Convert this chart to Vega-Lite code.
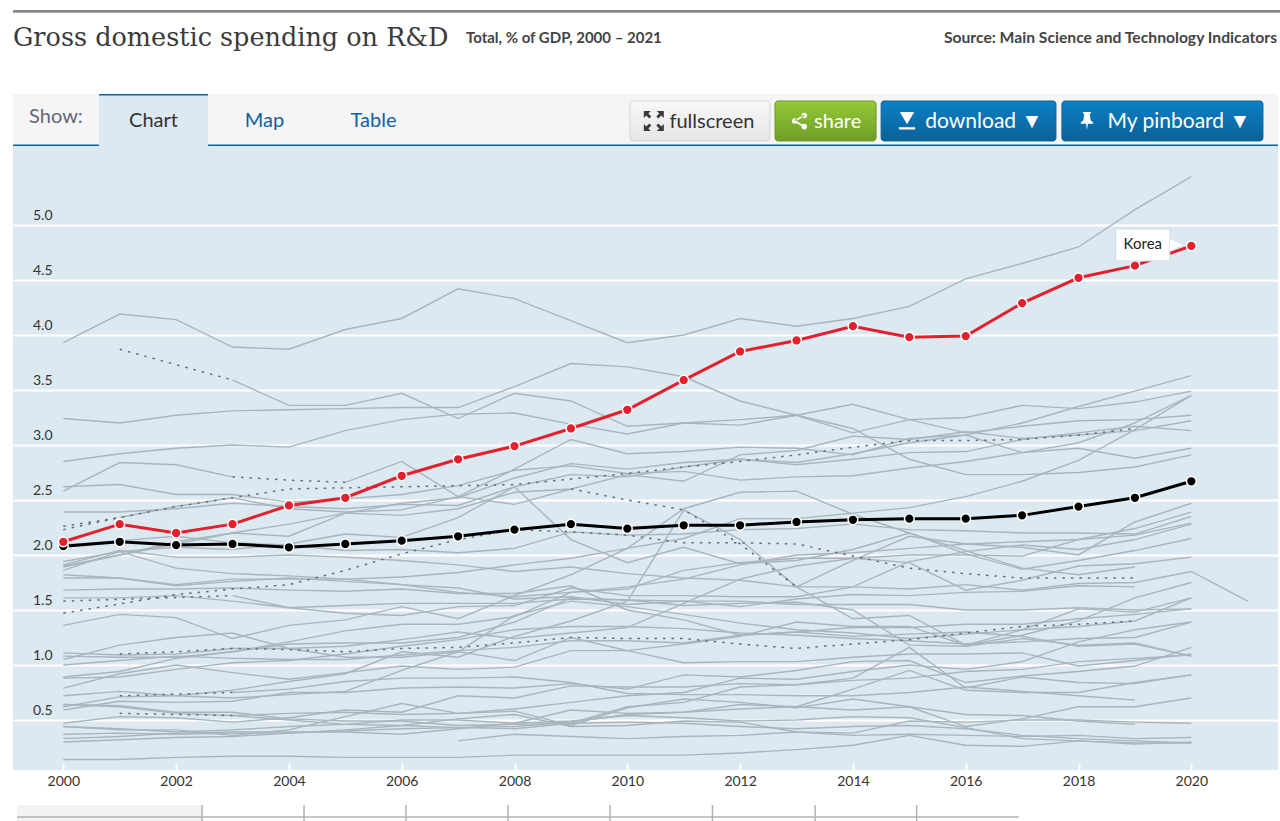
{"$schema":"https://vega.github.io/schema/vega-lite/v6.json","width":1265,"height":624,"autosize":"none","padding":{"left":13,"top":146,"right":2,"bottom":51},"background":"white","view":{"fill":"#dde9f1","stroke":null},
"config":{"text":{"font":"Lato"}},
"data":{"values":[{"k":"ui"}]},
"datasets":{
"grey":[
{"c":"ISR","y":2000,"v":3.93},{"c":"ISR","y":2001,"v":4.19},{"c":"ISR","y":2002,"v":4.14},{"c":"ISR","y":2003,"v":3.89},{"c":"ISR","y":2004,"v":3.87},{"c":"ISR","y":2005,"v":4.05},{"c":"ISR","y":2006,"v":4.15},{"c":"ISR","y":2007,"v":4.42},{"c":"ISR","y":2008,"v":4.33},{"c":"ISR","y":2009,"v":4.13},{"c":"ISR","y":2010,"v":3.93},{"c":"ISR","y":2011,"v":4.0},{"c":"ISR","y":2012,"v":4.15},{"c":"ISR","y":2013,"v":4.08},{"c":"ISR","y":2014,"v":4.15},{"c":"ISR","y":2015,"v":4.26},{"c":"ISR","y":2016,"v":4.51},{"c":"ISR","y":2017,"v":4.65},{"c":"ISR","y":2018,"v":4.8},{"c":"ISR","y":2019,"v":5.14},{"c":"ISR","y":2020,"v":5.44},
{"c":"FIN","y":2000,"v":3.24},{"c":"FIN","y":2001,"v":3.2},{"c":"FIN","y":2002,"v":3.27},{"c":"FIN","y":2003,"v":3.31},{"c":"FIN","y":2004,"v":3.32},{"c":"FIN","y":2005,"v":3.33},{"c":"FIN","y":2006,"v":3.34},{"c":"FIN","y":2007,"v":3.34},{"c":"FIN","y":2008,"v":3.53},{"c":"FIN","y":2009,"v":3.74},{"c":"FIN","y":2010,"v":3.71},{"c":"FIN","y":2011,"v":3.62},{"c":"FIN","y":2012,"v":3.4},{"c":"FIN","y":2013,"v":3.27},{"c":"FIN","y":2014,"v":3.15},{"c":"FIN","y":2015,"v":2.87},{"c":"FIN","y":2016,"v":2.73},{"c":"FIN","y":2017,"v":2.73},{"c":"FIN","y":2018,"v":2.75},{"c":"FIN","y":2019,"v":2.8},{"c":"FIN","y":2020,"v":2.91},
{"c":"SWE","y":2003,"v":3.59},{"c":"SWE","y":2004,"v":3.36},{"c":"SWE","y":2005,"v":3.36},{"c":"SWE","y":2006,"v":3.47},{"c":"SWE","y":2007,"v":3.24},{"c":"SWE","y":2008,"v":3.47},{"c":"SWE","y":2009,"v":3.4},{"c":"SWE","y":2010,"v":3.17},{"c":"SWE","y":2011,"v":3.2},{"c":"SWE","y":2012,"v":3.18},{"c":"SWE","y":2013,"v":3.27},{"c":"SWE","y":2014,"v":3.11},{"c":"SWE","y":2015,"v":3.23},{"c":"SWE","y":2016,"v":3.25},{"c":"SWE","y":2017,"v":3.36},{"c":"SWE","y":2018,"v":3.33},{"c":"SWE","y":2019,"v":3.39},{"c":"SWE","y":2020,"v":3.49},
{"c":"JPN","y":2000,"v":2.85},{"c":"JPN","y":2001,"v":2.92},{"c":"JPN","y":2002,"v":2.97},{"c":"JPN","y":2003,"v":3.0},{"c":"JPN","y":2004,"v":2.98},{"c":"JPN","y":2005,"v":3.13},{"c":"JPN","y":2006,"v":3.23},{"c":"JPN","y":2007,"v":3.28},{"c":"JPN","y":2008,"v":3.29},{"c":"JPN","y":2009,"v":3.19},{"c":"JPN","y":2010,"v":3.1},{"c":"JPN","y":2011,"v":3.2},{"c":"JPN","y":2012,"v":3.23},{"c":"JPN","y":2013,"v":3.27},{"c":"JPN","y":2014,"v":3.37},{"c":"JPN","y":2015,"v":3.23},{"c":"JPN","y":2016,"v":3.11},{"c":"JPN","y":2017,"v":3.17},{"c":"JPN","y":2018,"v":3.22},{"c":"JPN","y":2019,"v":3.23},{"c":"JPN","y":2020,"v":3.27},
{"c":"USA","y":2000,"v":2.62},{"c":"USA","y":2001,"v":2.64},{"c":"USA","y":2002,"v":2.55},{"c":"USA","y":2003,"v":2.55},{"c":"USA","y":2004,"v":2.48},{"c":"USA","y":2005,"v":2.51},{"c":"USA","y":2006,"v":2.55},{"c":"USA","y":2007,"v":2.63},{"c":"USA","y":2008,"v":2.77},{"c":"USA","y":2009,"v":2.81},{"c":"USA","y":2010,"v":2.74},{"c":"USA","y":2011,"v":2.76},{"c":"USA","y":2012,"v":2.68},{"c":"USA","y":2013,"v":2.71},{"c":"USA","y":2014,"v":2.72},{"c":"USA","y":2015,"v":2.79},{"c":"USA","y":2016,"v":2.85},{"c":"USA","y":2017,"v":2.93},{"c":"USA","y":2018,"v":3.02},{"c":"USA","y":2019,"v":3.2},{"c":"USA","y":2020,"v":3.45},
{"c":"ISL1","y":2000,"v":2.58},{"c":"ISL1","y":2001,"v":2.84},{"c":"ISL1","y":2002,"v":2.82},{"c":"ISL1","y":2003,"v":2.71},
{"c":"ISL2","y":2005,"v":2.66},{"c":"ISL2","y":2006,"v":2.85},{"c":"ISL2","y":2007,"v":2.53},{"c":"ISL2","y":2008,"v":2.46},{"c":"ISL2","y":2009,"v":2.6},
{"c":"ISL3","y":2013,"v":1.71},{"c":"ISL3","y":2014,"v":1.95},{"c":"ISL3","y":2015,"v":2.17},{"c":"ISL3","y":2016,"v":2.1},{"c":"ISL3","y":2017,"v":2.07},{"c":"ISL3","y":2018,"v":2.0},{"c":"ISL3","y":2019,"v":2.3},{"c":"ISL3","y":2020,"v":2.47},
{"c":"DNK","y":2001,"v":2.34},{"c":"DNK","y":2002,"v":2.44},{"c":"DNK","y":2003,"v":2.52},{"c":"DNK","y":2004,"v":2.42},{"c":"DNK","y":2005,"v":2.39},{"c":"DNK","y":2006,"v":2.41},{"c":"DNK","y":2007,"v":2.53},{"c":"DNK","y":2008,"v":2.78},{"c":"DNK","y":2009,"v":3.05},{"c":"DNK","y":2010,"v":2.92},{"c":"DNK","y":2011,"v":2.94},{"c":"DNK","y":2012,"v":2.98},{"c":"DNK","y":2013,"v":2.97},{"c":"DNK","y":2014,"v":2.91},{"c":"DNK","y":2015,"v":3.06},{"c":"DNK","y":2016,"v":3.09},{"c":"DNK","y":2017,"v":2.93},{"c":"DNK","y":2018,"v":2.97},{"c":"DNK","y":2019,"v":2.88},{"c":"DNK","y":2020,"v":2.97},
{"c":"DEU","y":2000,"v":2.39},{"c":"DEU","y":2001,"v":2.39},{"c":"DEU","y":2002,"v":2.42},{"c":"DEU","y":2003,"v":2.47},{"c":"DEU","y":2004,"v":2.44},{"c":"DEU","y":2005,"v":2.42},{"c":"DEU","y":2006,"v":2.46},{"c":"DEU","y":2007,"v":2.45},{"c":"DEU","y":2008,"v":2.62},{"c":"DEU","y":2009,"v":2.73},{"c":"DEU","y":2010,"v":2.71},{"c":"DEU","y":2011,"v":2.8},{"c":"DEU","y":2012,"v":2.87},{"c":"DEU","y":2013,"v":2.82},{"c":"DEU","y":2014,"v":2.87},{"c":"DEU","y":2015,"v":2.93},{"c":"DEU","y":2016,"v":2.94},{"c":"DEU","y":2017,"v":3.05},{"c":"DEU","y":2018,"v":3.11},{"c":"DEU","y":2019,"v":3.17},{"c":"DEU","y":2020,"v":3.13},
{"c":"AUT","y":2000,"v":1.9},{"c":"AUT","y":2001,"v":2.0},{"c":"AUT","y":2002,"v":2.12},{"c":"AUT","y":2003,"v":2.2},{"c":"AUT","y":2004,"v":2.17},{"c":"AUT","y":2005,"v":2.38},{"c":"AUT","y":2006,"v":2.36},{"c":"AUT","y":2007,"v":2.42},{"c":"AUT","y":2008,"v":2.57},{"c":"AUT","y":2009,"v":2.6},{"c":"AUT","y":2010,"v":2.73},{"c":"AUT","y":2011,"v":2.67},{"c":"AUT","y":2012,"v":2.91},{"c":"AUT","y":2013,"v":2.95},{"c":"AUT","y":2014,"v":3.08},{"c":"AUT","y":2015,"v":3.05},{"c":"AUT","y":2016,"v":3.12},{"c":"AUT","y":2017,"v":3.06},{"c":"AUT","y":2018,"v":3.09},{"c":"AUT","y":2019,"v":3.13},{"c":"AUT","y":2020,"v":3.22},
{"c":"TWN","y":2000,"v":1.89},{"c":"TWN","y":2001,"v":2.0},{"c":"TWN","y":2002,"v":2.1},{"c":"TWN","y":2003,"v":2.2},{"c":"TWN","y":2004,"v":2.28},{"c":"TWN","y":2005,"v":2.38},{"c":"TWN","y":2006,"v":2.47},{"c":"TWN","y":2007,"v":2.52},{"c":"TWN","y":2008,"v":2.7},{"c":"TWN","y":2009,"v":2.83},{"c":"TWN","y":2010,"v":2.78},{"c":"TWN","y":2011,"v":2.84},{"c":"TWN","y":2012,"v":2.87},{"c":"TWN","y":2013,"v":2.84},{"c":"TWN","y":2014,"v":2.92},{"c":"TWN","y":2015,"v":3.02},{"c":"TWN","y":2016,"v":3.09},{"c":"TWN","y":2017,"v":3.2},{"c":"TWN","y":2018,"v":3.35},{"c":"TWN","y":2019,"v":3.49},{"c":"TWN","y":2020,"v":3.63},
{"c":"BEL","y":2000,"v":1.94},{"c":"BEL","y":2001,"v":2.03},{"c":"BEL","y":2002,"v":1.88},{"c":"BEL","y":2003,"v":1.83},{"c":"BEL","y":2004,"v":1.81},{"c":"BEL","y":2005,"v":1.78},{"c":"BEL","y":2006,"v":1.8},{"c":"BEL","y":2007,"v":1.84},{"c":"BEL","y":2008,"v":1.91},{"c":"BEL","y":2009,"v":1.97},{"c":"BEL","y":2010,"v":2.06},{"c":"BEL","y":2011,"v":2.15},{"c":"BEL","y":2012,"v":2.33},{"c":"BEL","y":2013,"v":2.33},{"c":"BEL","y":2014,"v":2.38},{"c":"BEL","y":2015,"v":2.43},{"c":"BEL","y":2016,"v":2.53},{"c":"BEL","y":2017,"v":2.67},{"c":"BEL","y":2018,"v":2.86},{"c":"BEL","y":2019,"v":3.14},{"c":"BEL","y":2020,"v":3.45},
{"c":"FRA","y":2000,"v":2.09},{"c":"FRA","y":2001,"v":2.13},{"c":"FRA","y":2002,"v":2.17},{"c":"FRA","y":2003,"v":2.11},{"c":"FRA","y":2004,"v":2.09},{"c":"FRA","y":2005,"v":2.04},{"c":"FRA","y":2006,"v":2.05},{"c":"FRA","y":2007,"v":2.02},{"c":"FRA","y":2008,"v":2.06},{"c":"FRA","y":2009,"v":2.21},{"c":"FRA","y":2010,"v":2.18},{"c":"FRA","y":2011,"v":2.19},{"c":"FRA","y":2012,"v":2.23},{"c":"FRA","y":2013,"v":2.24},{"c":"FRA","y":2014,"v":2.28},{"c":"FRA","y":2015,"v":2.23},{"c":"FRA","y":2016,"v":2.22},{"c":"FRA","y":2017,"v":2.2},{"c":"FRA","y":2018,"v":2.2},{"c":"FRA","y":2019,"v":2.19},{"c":"FRA","y":2020,"v":2.35},
{"c":"SGP","y":2000,"v":1.86},{"c":"SGP","y":2001,"v":2.03},{"c":"SGP","y":2002,"v":2.07},{"c":"SGP","y":2003,"v":2.05},{"c":"SGP","y":2004,"v":2.1},{"c":"SGP","y":2005,"v":2.19},{"c":"SGP","y":2006,"v":2.16},{"c":"SGP","y":2007,"v":2.34},{"c":"SGP","y":2008,"v":2.62},{"c":"SGP","y":2009,"v":2.14},{"c":"SGP","y":2010,"v":1.93},{"c":"SGP","y":2011,"v":2.07},{"c":"SGP","y":2012,"v":1.92},{"c":"SGP","y":2013,"v":1.95},{"c":"SGP","y":2014,"v":2.05},{"c":"SGP","y":2015,"v":2.2},{"c":"SGP","y":2016,"v":2.04},{"c":"SGP","y":2017,"v":1.88},{"c":"SGP","y":2018,"v":1.82},{"c":"SGP","y":2019,"v":1.89},
{"c":"NLD","y":2000,"v":1.82},{"c":"NLD","y":2001,"v":1.79},{"c":"NLD","y":2002,"v":1.72},{"c":"NLD","y":2003,"v":1.76},{"c":"NLD","y":2004,"v":1.79},{"c":"NLD","y":2005,"v":1.76},{"c":"NLD","y":2006,"v":1.73},{"c":"NLD","y":2007,"v":1.66},{"c":"NLD","y":2008,"v":1.62},{"c":"NLD","y":2009,"v":1.66},{"c":"NLD","y":2010,"v":1.69},{"c":"NLD","y":2011,"v":1.86},{"c":"NLD","y":2012,"v":1.93},{"c":"NLD","y":2013,"v":1.97},{"c":"NLD","y":2014,"v":1.97},{"c":"NLD","y":2015,"v":2.0},{"c":"NLD","y":2016,"v":2.0},{"c":"NLD","y":2017,"v":1.99},{"c":"NLD","y":2018,"v":2.14},{"c":"NLD","y":2019,"v":2.18},{"c":"NLD","y":2020,"v":2.29},
{"c":"CAN","y":2000,"v":1.91},{"c":"CAN","y":2001,"v":2.04},{"c":"CAN","y":2002,"v":1.98},{"c":"CAN","y":2003,"v":1.98},{"c":"CAN","y":2004,"v":2.0},{"c":"CAN","y":2005,"v":1.98},{"c":"CAN","y":2006,"v":1.95},{"c":"CAN","y":2007,"v":1.91},{"c":"CAN","y":2008,"v":1.85},{"c":"CAN","y":2009,"v":1.89},{"c":"CAN","y":2010,"v":1.83},{"c":"CAN","y":2011,"v":1.79},{"c":"CAN","y":2012,"v":1.77},{"c":"CAN","y":2013,"v":1.71},{"c":"CAN","y":2014,"v":1.71},{"c":"CAN","y":2015,"v":1.69},{"c":"CAN","y":2016,"v":1.73},{"c":"CAN","y":2017,"v":1.68},{"c":"CAN","y":2018,"v":1.74},{"c":"CAN","y":2019,"v":1.75},{"c":"CAN","y":2020,"v":1.85},{"c":"CAN","y":2021,"v":1.58},
{"c":"GBR","y":2000,"v":1.61},{"c":"GBR","y":2001,"v":1.61},{"c":"GBR","y":2002,"v":1.63},{"c":"GBR","y":2003,"v":1.58},{"c":"GBR","y":2004,"v":1.52},{"c":"GBR","y":2005,"v":1.54},{"c":"GBR","y":2006,"v":1.56},{"c":"GBR","y":2007,"v":1.56},{"c":"GBR","y":2008,"v":1.56},{"c":"GBR","y":2009,"v":1.6},{"c":"GBR","y":2010,"v":1.59},{"c":"GBR","y":2011,"v":1.58},{"c":"GBR","y":2012,"v":1.53},{"c":"GBR","y":2013,"v":1.6},{"c":"GBR","y":2014,"v":1.64},{"c":"GBR","y":2015,"v":1.63},{"c":"GBR","y":2016,"v":1.66},{"c":"GBR","y":2017,"v":1.67},{"c":"GBR","y":2018,"v":1.72},{"c":"GBR","y":2019,"v":1.71},
{"c":"NOR","y":2003,"v":1.63},{"c":"NOR","y":2004,"v":1.52},{"c":"NOR","y":2005,"v":1.47},{"c":"NOR","y":2006,"v":1.45},{"c":"NOR","y":2007,"v":1.53},{"c":"NOR","y":2008,"v":1.54},{"c":"NOR","y":2009,"v":1.7},{"c":"NOR","y":2010,"v":1.63},{"c":"NOR","y":2011,"v":1.63},{"c":"NOR","y":2012,"v":1.62},{"c":"NOR","y":2013,"v":1.62},{"c":"NOR","y":2014,"v":1.71},{"c":"NOR","y":2015,"v":1.94},{"c":"NOR","y":2016,"v":2.03},{"c":"NOR","y":2017,"v":2.09},{"c":"NOR","y":2018,"v":2.05},{"c":"NOR","y":2019,"v":2.14},{"c":"NOR","y":2020,"v":2.28},
{"c":"LUX","y":2000,"v":1.68},{"c":"LUX","y":2001,"v":1.69},{"c":"LUX","y":2002,"v":1.69},{"c":"LUX","y":2003,"v":1.7},{"c":"LUX","y":2004,"v":1.68},{"c":"LUX","y":2005,"v":1.67},{"c":"LUX","y":2006,"v":1.69},{"c":"LUX","y":2007,"v":1.65},{"c":"LUX","y":2008,"v":1.65},{"c":"LUX","y":2009,"v":1.72},{"c":"LUX","y":2010,"v":1.5},{"c":"LUX","y":2011,"v":1.41},{"c":"LUX","y":2012,"v":1.27},{"c":"LUX","y":2013,"v":1.3},{"c":"LUX","y":2014,"v":1.26},{"c":"LUX","y":2015,"v":1.28},{"c":"LUX","y":2016,"v":1.3},{"c":"LUX","y":2017,"v":1.26},{"c":"LUX","y":2018,"v":1.17},{"c":"LUX","y":2019,"v":1.19},{"c":"LUX","y":2020,"v":1.08},
{"c":"XA","y":2000,"v":1.79},{"c":"XA","y":2001,"v":1.79},{"c":"XA","y":2002,"v":1.73},{"c":"XA","y":2003,"v":1.78},{"c":"XA","y":2004,"v":1.78},{"c":"XA","y":2005,"v":1.78},{"c":"XA","y":2006,"v":1.73},{"c":"XA","y":2007,"v":1.7},{"c":"XA","y":2008,"v":1.6},{"c":"XA","y":2009,"v":1.62},{"c":"XA","y":2010,"v":1.55},{"c":"XA","y":2011,"v":1.58},{"c":"XA","y":2012,"v":1.58},{"c":"XA","y":2013,"v":1.55},{"c":"XA","y":2014,"v":1.55},{"c":"XA","y":2015,"v":1.55},{"c":"XA","y":2016,"v":1.5},{"c":"XA","y":2017,"v":1.5},{"c":"XA","y":2018,"v":1.52},{"c":"XA","y":2019,"v":1.5},{"c":"XA","y":2020,"v":1.51},
{"c":"SVN","y":2000,"v":1.36},{"c":"SVN","y":2001,"v":1.46},{"c":"SVN","y":2002,"v":1.43},{"c":"SVN","y":2003,"v":1.24},{"c":"SVN","y":2004,"v":1.36},{"c":"SVN","y":2005,"v":1.41},{"c":"SVN","y":2006,"v":1.53},{"c":"SVN","y":2007,"v":1.42},{"c":"SVN","y":2008,"v":1.63},{"c":"SVN","y":2009,"v":1.82},{"c":"SVN","y":2010,"v":2.06},{"c":"SVN","y":2011,"v":2.42},{"c":"SVN","y":2012,"v":2.57},{"c":"SVN","y":2013,"v":2.58},{"c":"SVN","y":2014,"v":2.37},{"c":"SVN","y":2015,"v":2.2},{"c":"SVN","y":2016,"v":2.01},{"c":"SVN","y":2017,"v":1.87},{"c":"SVN","y":2018,"v":1.95},{"c":"SVN","y":2019,"v":2.04},{"c":"SVN","y":2020,"v":2.15},
{"c":"CHN","y":2000,"v":0.89},{"c":"CHN","y":2001,"v":0.94},{"c":"CHN","y":2002,"v":1.06},{"c":"CHN","y":2003,"v":1.12},{"c":"CHN","y":2004,"v":1.21},{"c":"CHN","y":2005,"v":1.31},{"c":"CHN","y":2006,"v":1.37},{"c":"CHN","y":2007,"v":1.37},{"c":"CHN","y":2008,"v":1.44},{"c":"CHN","y":2009,"v":1.66},{"c":"CHN","y":2010,"v":1.71},{"c":"CHN","y":2011,"v":1.78},{"c":"CHN","y":2012,"v":1.91},{"c":"CHN","y":2013,"v":2.0},{"c":"CHN","y":2014,"v":2.02},{"c":"CHN","y":2015,"v":2.06},{"c":"CHN","y":2016,"v":2.1},{"c":"CHN","y":2017,"v":2.12},{"c":"CHN","y":2018,"v":2.14},{"c":"CHN","y":2019,"v":2.24},{"c":"CHN","y":2020,"v":2.39},
{"c":"CZE","y":2000,"v":1.11},{"c":"CZE","y":2001,"v":1.09},{"c":"CZE","y":2002,"v":1.1},{"c":"CZE","y":2003,"v":1.15},{"c":"CZE","y":2004,"v":1.15},{"c":"CZE","y":2005,"v":1.17},{"c":"CZE","y":2006,"v":1.23},{"c":"CZE","y":2007,"v":1.3},{"c":"CZE","y":2008,"v":1.24},{"c":"CZE","y":2009,"v":1.29},{"c":"CZE","y":2010,"v":1.34},{"c":"CZE","y":2011,"v":1.56},{"c":"CZE","y":2012,"v":1.78},{"c":"CZE","y":2013,"v":1.9},{"c":"CZE","y":2014,"v":1.97},{"c":"CZE","y":2015,"v":1.93},{"c":"CZE","y":2016,"v":1.68},{"c":"CZE","y":2017,"v":1.77},{"c":"CZE","y":2018,"v":1.9},{"c":"CZE","y":2019,"v":1.92},{"c":"CZE","y":2020,"v":1.98},
{"c":"EST","y":2000,"v":0.62},{"c":"EST","y":2001,"v":0.71},{"c":"EST","y":2002,"v":0.72},{"c":"EST","y":2003,"v":0.77},{"c":"EST","y":2004,"v":0.85},{"c":"EST","y":2005,"v":0.92},{"c":"EST","y":2006,"v":1.12},{"c":"EST","y":2007,"v":1.07},{"c":"EST","y":2008,"v":1.26},{"c":"EST","y":2009,"v":1.4},{"c":"EST","y":2010,"v":1.58},{"c":"EST","y":2011,"v":2.41},{"c":"EST","y":2012,"v":2.14},{"c":"EST","y":2013,"v":1.71},{"c":"EST","y":2014,"v":1.42},{"c":"EST","y":2015,"v":1.45},{"c":"EST","y":2016,"v":1.18},{"c":"EST","y":2017,"v":1.27},{"c":"EST","y":2018,"v":1.4},{"c":"EST","y":2019,"v":1.61},{"c":"EST","y":2020,"v":1.75},
{"c":"ESP","y":2000,"v":0.88},{"c":"ESP","y":2001,"v":0.89},{"c":"ESP","y":2002,"v":0.96},{"c":"ESP","y":2003,"v":1.02},{"c":"ESP","y":2004,"v":1.04},{"c":"ESP","y":2005,"v":1.1},{"c":"ESP","y":2006,"v":1.17},{"c":"ESP","y":2007,"v":1.23},{"c":"ESP","y":2008,"v":1.32},{"c":"ESP","y":2009,"v":1.35},{"c":"ESP","y":2010,"v":1.35},{"c":"ESP","y":2011,"v":1.33},{"c":"ESP","y":2012,"v":1.29},{"c":"ESP","y":2013,"v":1.27},{"c":"ESP","y":2014,"v":1.24},{"c":"ESP","y":2015,"v":1.22},{"c":"ESP","y":2016,"v":1.19},{"c":"ESP","y":2017,"v":1.21},{"c":"ESP","y":2018,"v":1.24},{"c":"ESP","y":2019,"v":1.25},{"c":"ESP","y":2020,"v":1.39},
{"c":"ITA","y":2000,"v":1.0},{"c":"ITA","y":2001,"v":1.04},{"c":"ITA","y":2002,"v":1.08},{"c":"ITA","y":2003,"v":1.06},{"c":"ITA","y":2004,"v":1.05},{"c":"ITA","y":2005,"v":1.05},{"c":"ITA","y":2006,"v":1.09},{"c":"ITA","y":2007,"v":1.13},{"c":"ITA","y":2008,"v":1.16},{"c":"ITA","y":2009,"v":1.22},{"c":"ITA","y":2010,"v":1.22},{"c":"ITA","y":2011,"v":1.2},{"c":"ITA","y":2012,"v":1.27},{"c":"ITA","y":2013,"v":1.3},{"c":"ITA","y":2014,"v":1.34},{"c":"ITA","y":2015,"v":1.34},{"c":"ITA","y":2016,"v":1.37},{"c":"ITA","y":2017,"v":1.37},{"c":"ITA","y":2018,"v":1.42},{"c":"ITA","y":2019,"v":1.46},{"c":"ITA","y":2020,"v":1.51},
{"c":"PRT","y":2000,"v":0.72},{"c":"PRT","y":2001,"v":0.76},{"c":"PRT","y":2002,"v":0.72},{"c":"PRT","y":2003,"v":0.7},{"c":"PRT","y":2004,"v":0.73},{"c":"PRT","y":2005,"v":0.76},{"c":"PRT","y":2006,"v":0.95},{"c":"PRT","y":2007,"v":1.12},{"c":"PRT","y":2008,"v":1.45},{"c":"PRT","y":2009,"v":1.58},{"c":"PRT","y":2010,"v":1.53},{"c":"PRT","y":2011,"v":1.46},{"c":"PRT","y":2012,"v":1.38},{"c":"PRT","y":2013,"v":1.32},{"c":"PRT","y":2014,"v":1.29},{"c":"PRT","y":2015,"v":1.24},{"c":"PRT","y":2016,"v":1.28},{"c":"PRT","y":2017,"v":1.32},{"c":"PRT","y":2018,"v":1.35},{"c":"PRT","y":2019,"v":1.4},{"c":"PRT","y":2020,"v":1.61},
{"c":"IRL","y":2000,"v":1.08},{"c":"IRL","y":2001,"v":1.07},{"c":"IRL","y":2002,"v":1.07},{"c":"IRL","y":2003,"v":1.12},{"c":"IRL","y":2004,"v":1.19},{"c":"IRL","y":2005,"v":1.2},{"c":"IRL","y":2006,"v":1.2},{"c":"IRL","y":2007,"v":1.25},{"c":"IRL","y":2008,"v":1.39},{"c":"IRL","y":2009,"v":1.61},{"c":"IRL","y":2010,"v":1.59},{"c":"IRL","y":2011,"v":1.54},{"c":"IRL","y":2012,"v":1.56},{"c":"IRL","y":2013,"v":1.57},{"c":"IRL","y":2014,"v":1.5},{"c":"IRL","y":2015,"v":1.18},{"c":"IRL","y":2016,"v":1.17},{"c":"IRL","y":2017,"v":1.24},{"c":"IRL","y":2018,"v":1.18},{"c":"IRL","y":2019,"v":1.2},{"c":"IRL","y":2020,"v":1.08},
{"c":"HUN","y":2000,"v":0.79},{"c":"HUN","y":2001,"v":0.92},{"c":"HUN","y":2002,"v":1.0},{"c":"HUN","y":2003,"v":0.93},{"c":"HUN","y":2004,"v":0.87},{"c":"HUN","y":2005,"v":0.93},{"c":"HUN","y":2006,"v":0.99},{"c":"HUN","y":2007,"v":0.96},{"c":"HUN","y":2008,"v":0.98},{"c":"HUN","y":2009,"v":1.13},{"c":"HUN","y":2010,"v":1.13},{"c":"HUN","y":2011,"v":1.19},{"c":"HUN","y":2012,"v":1.26},{"c":"HUN","y":2013,"v":1.39},{"c":"HUN","y":2014,"v":1.35},{"c":"HUN","y":2015,"v":1.35},{"c":"HUN","y":2016,"v":1.18},{"c":"HUN","y":2017,"v":1.32},{"c":"HUN","y":2018,"v":1.51},{"c":"HUN","y":2019,"v":1.48},{"c":"HUN","y":2020,"v":1.61},
{"c":"RUS","y":2000,"v":1.05},{"c":"RUS","y":2001,"v":1.18},{"c":"RUS","y":2002,"v":1.25},{"c":"RUS","y":2003,"v":1.29},{"c":"RUS","y":2004,"v":1.15},{"c":"RUS","y":2005,"v":1.07},{"c":"RUS","y":2006,"v":1.07},{"c":"RUS","y":2007,"v":1.12},{"c":"RUS","y":2008,"v":1.04},{"c":"RUS","y":2009,"v":1.25},{"c":"RUS","y":2010,"v":1.13},{"c":"RUS","y":2011,"v":1.02},{"c":"RUS","y":2012,"v":1.03},{"c":"RUS","y":2013,"v":1.03},{"c":"RUS","y":2014,"v":1.07},{"c":"RUS","y":2015,"v":1.1},{"c":"RUS","y":2016,"v":1.1},{"c":"RUS","y":2017,"v":1.11},{"c":"RUS","y":2018,"v":0.99},{"c":"RUS","y":2019,"v":1.04},{"c":"RUS","y":2020,"v":1.1},
{"c":"LTU","y":2000,"v":0.59},{"c":"LTU","y":2001,"v":0.67},{"c":"LTU","y":2002,"v":0.66},{"c":"LTU","y":2003,"v":0.67},{"c":"LTU","y":2004,"v":0.75},{"c":"LTU","y":2005,"v":0.75},{"c":"LTU","y":2006,"v":0.79},{"c":"LTU","y":2007,"v":0.8},{"c":"LTU","y":2008,"v":0.79},{"c":"LTU","y":2009,"v":0.83},{"c":"LTU","y":2010,"v":0.78},{"c":"LTU","y":2011,"v":0.91},{"c":"LTU","y":2012,"v":0.89},{"c":"LTU","y":2013,"v":0.95},{"c":"LTU","y":2014,"v":1.03},{"c":"LTU","y":2015,"v":1.04},{"c":"LTU","y":2016,"v":0.84},{"c":"LTU","y":2017,"v":0.9},{"c":"LTU","y":2018,"v":0.94},{"c":"LTU","y":2019,"v":0.99},{"c":"LTU","y":2020,"v":1.16},
{"c":"POL","y":2000,"v":0.64},{"c":"POL","y":2001,"v":0.62},{"c":"POL","y":2002,"v":0.56},{"c":"POL","y":2003,"v":0.54},{"c":"POL","y":2004,"v":0.56},{"c":"POL","y":2005,"v":0.57},{"c":"POL","y":2006,"v":0.55},{"c":"POL","y":2007,"v":0.56},{"c":"POL","y":2008,"v":0.6},{"c":"POL","y":2009,"v":0.66},{"c":"POL","y":2010,"v":0.72},{"c":"POL","y":2011,"v":0.75},{"c":"POL","y":2012,"v":0.88},{"c":"POL","y":2013,"v":0.87},{"c":"POL","y":2014,"v":0.94},{"c":"POL","y":2015,"v":1.0},{"c":"POL","y":2016,"v":0.96},{"c":"POL","y":2017,"v":1.03},{"c":"POL","y":2018,"v":1.21},{"c":"POL","y":2019,"v":1.32},{"c":"POL","y":2020,"v":1.39},
{"c":"TUR","y":2000,"v":0.47},{"c":"TUR","y":2001,"v":0.53},{"c":"TUR","y":2002,"v":0.52},{"c":"TUR","y":2003,"v":0.48},{"c":"TUR","y":2004,"v":0.52},{"c":"TUR","y":2005,"v":0.59},{"c":"TUR","y":2006,"v":0.57},{"c":"TUR","y":2007,"v":0.72},{"c":"TUR","y":2008,"v":0.7},{"c":"TUR","y":2009,"v":0.81},{"c":"TUR","y":2010,"v":0.8},{"c":"TUR","y":2011,"v":0.8},{"c":"TUR","y":2012,"v":0.83},{"c":"TUR","y":2013,"v":0.82},{"c":"TUR","y":2014,"v":0.86},{"c":"TUR","y":2015,"v":0.88},{"c":"TUR","y":2016,"v":0.94},{"c":"TUR","y":2017,"v":0.96},{"c":"TUR","y":2018,"v":1.03},{"c":"TUR","y":2019,"v":1.06},{"c":"TUR","y":2020,"v":1.09},
{"c":"SVK","y":2000,"v":0.64},{"c":"SVK","y":2001,"v":0.63},{"c":"SVK","y":2002,"v":0.57},{"c":"SVK","y":2003,"v":0.57},{"c":"SVK","y":2004,"v":0.51},{"c":"SVK","y":2005,"v":0.49},{"c":"SVK","y":2006,"v":0.49},{"c":"SVK","y":2007,"v":0.45},{"c":"SVK","y":2008,"v":0.46},{"c":"SVK","y":2009,"v":0.47},{"c":"SVK","y":2010,"v":0.62},{"c":"SVK","y":2011,"v":0.66},{"c":"SVK","y":2012,"v":0.8},{"c":"SVK","y":2013,"v":0.82},{"c":"SVK","y":2014,"v":0.88},{"c":"SVK","y":2015,"v":1.16},{"c":"SVK","y":2016,"v":0.79},{"c":"SVK","y":2017,"v":0.89},{"c":"SVK","y":2018,"v":0.84},{"c":"SVK","y":2019,"v":0.83},{"c":"SVK","y":2020,"v":0.91},
{"c":"ZAF","y":2003,"v":0.75},{"c":"ZAF","y":2004,"v":0.78},{"c":"ZAF","y":2005,"v":0.85},{"c":"ZAF","y":2006,"v":0.88},{"c":"ZAF","y":2007,"v":0.88},{"c":"ZAF","y":2008,"v":0.89},{"c":"ZAF","y":2009,"v":0.84},{"c":"ZAF","y":2010,"v":0.74},{"c":"ZAF","y":2011,"v":0.73},{"c":"ZAF","y":2012,"v":0.73},{"c":"ZAF","y":2013,"v":0.72},{"c":"ZAF","y":2014,"v":0.72},{"c":"ZAF","y":2015,"v":0.75},{"c":"ZAF","y":2016,"v":0.8},{"c":"ZAF","y":2017,"v":0.76},{"c":"ZAF","y":2018,"v":0.72},{"c":"ZAF","y":2019,"v":0.68},
{"c":"LVA","y":2000,"v":0.44},{"c":"LVA","y":2001,"v":0.41},{"c":"LVA","y":2002,"v":0.41},{"c":"LVA","y":2003,"v":0.36},{"c":"LVA","y":2004,"v":0.41},{"c":"LVA","y":2005,"v":0.53},{"c":"LVA","y":2006,"v":0.65},{"c":"LVA","y":2007,"v":0.56},{"c":"LVA","y":2008,"v":0.58},{"c":"LVA","y":2009,"v":0.45},{"c":"LVA","y":2010,"v":0.61},{"c":"LVA","y":2011,"v":0.69},{"c":"LVA","y":2012,"v":0.66},{"c":"LVA","y":2013,"v":0.61},{"c":"LVA","y":2014,"v":0.69},{"c":"LVA","y":2015,"v":0.62},{"c":"LVA","y":2016,"v":0.44},{"c":"LVA","y":2017,"v":0.51},{"c":"LVA","y":2018,"v":0.62},{"c":"LVA","y":2019,"v":0.62},{"c":"LVA","y":2020,"v":0.7},
{"c":"BGR","y":2003,"v":0.54},{"c":"BGR","y":2004,"v":0.5},{"c":"BGR","y":2005,"v":0.46},{"c":"BGR","y":2006,"v":0.45},{"c":"BGR","y":2007,"v":0.43},{"c":"BGR","y":2008,"v":0.44},{"c":"BGR","y":2009,"v":0.48},{"c":"BGR","y":2010,"v":0.55},{"c":"BGR","y":2011,"v":0.57},{"c":"BGR","y":2012,"v":0.6},{"c":"BGR","y":2013,"v":0.62},{"c":"BGR","y":2014,"v":0.78},{"c":"BGR","y":2015,"v":0.95},{"c":"BGR","y":2016,"v":0.77},{"c":"BGR","y":2017,"v":0.75},{"c":"BGR","y":2018,"v":0.75},{"c":"BGR","y":2019,"v":0.84},{"c":"BGR","y":2020,"v":0.91},
{"c":"ROU","y":2000,"v":0.37},{"c":"ROU","y":2001,"v":0.38},{"c":"ROU","y":2002,"v":0.37},{"c":"ROU","y":2003,"v":0.38},{"c":"ROU","y":2004,"v":0.38},{"c":"ROU","y":2005,"v":0.41},{"c":"ROU","y":2006,"v":0.45},{"c":"ROU","y":2007,"v":0.51},{"c":"ROU","y":2008,"v":0.55},{"c":"ROU","y":2009,"v":0.44},{"c":"ROU","y":2010,"v":0.45},{"c":"ROU","y":2011,"v":0.49},{"c":"ROU","y":2012,"v":0.48},{"c":"ROU","y":2013,"v":0.39},{"c":"ROU","y":2014,"v":0.38},{"c":"ROU","y":2015,"v":0.49},{"c":"ROU","y":2016,"v":0.48},{"c":"ROU","y":2017,"v":0.5},{"c":"ROU","y":2018,"v":0.5},{"c":"ROU","y":2019,"v":0.48},{"c":"ROU","y":2020,"v":0.47},
{"c":"ARG","y":2000,"v":0.44},{"c":"ARG","y":2001,"v":0.42},{"c":"ARG","y":2002,"v":0.39},{"c":"ARG","y":2003,"v":0.41},{"c":"ARG","y":2004,"v":0.44},{"c":"ARG","y":2005,"v":0.46},{"c":"ARG","y":2006,"v":0.5},{"c":"ARG","y":2007,"v":0.5},{"c":"ARG","y":2008,"v":0.47},{"c":"ARG","y":2009,"v":0.59},{"c":"ARG","y":2010,"v":0.56},{"c":"ARG","y":2011,"v":0.57},{"c":"ARG","y":2012,"v":0.64},{"c":"ARG","y":2013,"v":0.62},{"c":"ARG","y":2014,"v":0.59},{"c":"ARG","y":2015,"v":0.62},{"c":"ARG","y":2016,"v":0.55},{"c":"ARG","y":2017,"v":0.54},{"c":"ARG","y":2018,"v":0.49},{"c":"ARG","y":2019,"v":0.46},
{"c":"MEX","y":2000,"v":0.33},{"c":"MEX","y":2001,"v":0.35},{"c":"MEX","y":2002,"v":0.38},{"c":"MEX","y":2003,"v":0.39},{"c":"MEX","y":2004,"v":0.39},{"c":"MEX","y":2005,"v":0.39},{"c":"MEX","y":2006,"v":0.37},{"c":"MEX","y":2007,"v":0.42},{"c":"MEX","y":2008,"v":0.47},{"c":"MEX","y":2009,"v":0.49},{"c":"MEX","y":2010,"v":0.54},{"c":"MEX","y":2011,"v":0.52},{"c":"MEX","y":2012,"v":0.49},{"c":"MEX","y":2013,"v":0.5},{"c":"MEX","y":2014,"v":0.53},{"c":"MEX","y":2015,"v":0.52},{"c":"MEX","y":2016,"v":0.43},{"c":"MEX","y":2017,"v":0.33},{"c":"MEX","y":2018,"v":0.31},{"c":"MEX","y":2019,"v":0.28},{"c":"MEX","y":2020,"v":0.3},
{"c":"CHL","y":2007,"v":0.31},{"c":"CHL","y":2008,"v":0.37},{"c":"CHL","y":2009,"v":0.35},{"c":"CHL","y":2010,"v":0.33},{"c":"CHL","y":2011,"v":0.35},{"c":"CHL","y":2012,"v":0.36},{"c":"CHL","y":2013,"v":0.39},{"c":"CHL","y":2014,"v":0.36},{"c":"CHL","y":2015,"v":0.37},{"c":"CHL","y":2016,"v":0.36},{"c":"CHL","y":2017,"v":0.35},{"c":"CHL","y":2018,"v":0.36},{"c":"CHL","y":2019,"v":0.33},{"c":"CHL","y":2020,"v":0.34},
{"c":"COL","y":2000,"v":0.14},{"c":"COL","y":2001,"v":0.14},{"c":"COL","y":2002,"v":0.16},{"c":"COL","y":2003,"v":0.17},{"c":"COL","y":2004,"v":0.17},{"c":"COL","y":2005,"v":0.16},{"c":"COL","y":2006,"v":0.16},{"c":"COL","y":2007,"v":0.16},{"c":"COL","y":2008,"v":0.18},{"c":"COL","y":2009,"v":0.18},{"c":"COL","y":2010,"v":0.18},{"c":"COL","y":2011,"v":0.18},{"c":"COL","y":2012,"v":0.2},{"c":"COL","y":2013,"v":0.23},{"c":"COL","y":2014,"v":0.27},{"c":"COL","y":2015,"v":0.36},{"c":"COL","y":2016,"v":0.27},{"c":"COL","y":2017,"v":0.26},{"c":"COL","y":2018,"v":0.31},{"c":"COL","y":2019,"v":0.29},{"c":"COL","y":2020,"v":0.29},
{"c":"CYP","y":2000,"v":0.3},{"c":"CYP","y":2001,"v":0.32},{"c":"CYP","y":2002,"v":0.34},{"c":"CYP","y":2003,"v":0.35},{"c":"CYP","y":2004,"v":0.38},{"c":"CYP","y":2005,"v":0.4},{"c":"CYP","y":2006,"v":0.42},{"c":"CYP","y":2007,"v":0.43},{"c":"CYP","y":2008,"v":0.42},{"c":"CYP","y":2009,"v":0.47},{"c":"CYP","y":2010,"v":0.48},{"c":"CYP","y":2011,"v":0.47},{"c":"CYP","y":2012,"v":0.44},{"c":"CYP","y":2013,"v":0.42},{"c":"CYP","y":2014,"v":0.44},{"c":"CYP","y":2015,"v":0.45},{"c":"CYP","y":2016,"v":0.42},{"c":"CYP","y":2017,"v":0.36},{"c":"CYP","y":2018,"v":0.33},{"c":"CYP","y":2019,"v":0.31},{"c":"CYP","y":2020,"v":0.29}
],
"dots":[
{"c":"SWE","y":2001,"v":3.87},{"c":"SWE","y":2003,"v":3.59},
{"c":"ISL","y":2003,"v":2.71},{"c":"ISL","y":2004,"v":2.68},{"c":"ISL","y":2005,"v":2.66},
{"c":"ISLb","y":2009,"v":2.6},{"c":"ISLb","y":2010,"v":2.5},{"c":"ISLb","y":2011,"v":2.41},{"c":"ISLb","y":2012,"v":2.1},{"c":"ISLb","y":2013,"v":1.71},
{"c":"DNK","y":2000,"v":2.23},{"c":"DNK","y":2001,"v":2.34},
{"c":"CHE","y":2000,"v":2.26},{"c":"CHE","y":2001,"v":2.34},{"c":"CHE","y":2002,"v":2.44},{"c":"CHE","y":2003,"v":2.52},{"c":"CHE","y":2004,"v":2.6},{"c":"CHE","y":2005,"v":2.61},{"c":"CHE","y":2006,"v":2.62},{"c":"CHE","y":2007,"v":2.63},{"c":"CHE","y":2008,"v":2.64},{"c":"CHE","y":2009,"v":2.69},{"c":"CHE","y":2010,"v":2.74},{"c":"CHE","y":2011,"v":2.8},{"c":"CHE","y":2012,"v":2.85},{"c":"CHE","y":2013,"v":2.91},{"c":"CHE","y":2014,"v":2.98},{"c":"CHE","y":2015,"v":3.04},{"c":"CHE","y":2016,"v":3.04},{"c":"CHE","y":2017,"v":3.05},{"c":"CHE","y":2018,"v":3.09},{"c":"CHE","y":2019,"v":3.15},
{"c":"AUS","y":2000,"v":1.47},{"c":"AUS","y":2002,"v":1.64},{"c":"AUS","y":2003,"v":1.69},{"c":"AUS","y":2004,"v":1.73},{"c":"AUS","y":2005,"v":1.86},{"c":"AUS","y":2006,"v":2.01},{"c":"AUS","y":2007,"v":2.14},{"c":"AUS","y":2008,"v":2.23},{"c":"AUS","y":2009,"v":2.21},{"c":"AUS","y":2010,"v":2.18},{"c":"AUS","y":2011,"v":2.11},{"c":"AUS","y":2012,"v":2.11},{"c":"AUS","y":2013,"v":2.1},{"c":"AUS","y":2014,"v":1.99},{"c":"AUS","y":2015,"v":1.88},{"c":"AUS","y":2016,"v":1.83},{"c":"AUS","y":2017,"v":1.79},{"c":"AUS","y":2018,"v":1.79},{"c":"AUS","y":2019,"v":1.79},
{"c":"NOR","y":2000,"v":1.58},{"c":"NOR","y":2003,"v":1.63},
{"c":"NZL","y":2001,"v":1.1},{"c":"NZL","y":2002,"v":1.12},{"c":"NZL","y":2003,"v":1.15},{"c":"NZL","y":2004,"v":1.14},{"c":"NZL","y":2005,"v":1.12},{"c":"NZL","y":2006,"v":1.15},{"c":"NZL","y":2007,"v":1.16},{"c":"NZL","y":2008,"v":1.2},{"c":"NZL","y":2009,"v":1.25},{"c":"NZL","y":2010,"v":1.24},{"c":"NZL","y":2011,"v":1.24},{"c":"NZL","y":2012,"v":1.19},{"c":"NZL","y":2013,"v":1.15},{"c":"NZL","y":2014,"v":1.19},{"c":"NZL","y":2015,"v":1.23},{"c":"NZL","y":2016,"v":1.29},{"c":"NZL","y":2017,"v":1.35},{"c":"NZL","y":2018,"v":1.37},{"c":"NZL","y":2019,"v":1.4},
{"c":"ZAF","y":2001,"v":0.72},{"c":"ZAF","y":2003,"v":0.75},
{"c":"BGR","y":2001,"v":0.56},{"c":"BGR","y":2003,"v":0.54}
],
"main":[
{"c":"OECD","y":2000,"v":2.08},{"c":"OECD","y":2001,"v":2.12},{"c":"OECD","y":2002,"v":2.09},{"c":"OECD","y":2003,"v":2.1},{"c":"OECD","y":2004,"v":2.07},{"c":"OECD","y":2005,"v":2.1},{"c":"OECD","y":2006,"v":2.13},{"c":"OECD","y":2007,"v":2.17},{"c":"OECD","y":2008,"v":2.23},{"c":"OECD","y":2009,"v":2.28},{"c":"OECD","y":2010,"v":2.24},{"c":"OECD","y":2011,"v":2.27},{"c":"OECD","y":2012,"v":2.27},{"c":"OECD","y":2013,"v":2.3},{"c":"OECD","y":2014,"v":2.32},{"c":"OECD","y":2015,"v":2.33},{"c":"OECD","y":2016,"v":2.33},{"c":"OECD","y":2017,"v":2.36},{"c":"OECD","y":2018,"v":2.44},{"c":"OECD","y":2019,"v":2.52},{"c":"OECD","y":2020,"v":2.67},
{"c":"Korea","y":2000,"v":2.12},{"c":"Korea","y":2001,"v":2.28},{"c":"Korea","y":2002,"v":2.2},{"c":"Korea","y":2003,"v":2.28},{"c":"Korea","y":2004,"v":2.45},{"c":"Korea","y":2005,"v":2.52},{"c":"Korea","y":2006,"v":2.72},{"c":"Korea","y":2007,"v":2.87},{"c":"Korea","y":2008,"v":2.99},{"c":"Korea","y":2009,"v":3.15},{"c":"Korea","y":2010,"v":3.32},{"c":"Korea","y":2011,"v":3.59},{"c":"Korea","y":2012,"v":3.85},{"c":"Korea","y":2013,"v":3.95},{"c":"Korea","y":2014,"v":4.08},{"c":"Korea","y":2015,"v":3.98},{"c":"Korea","y":2016,"v":3.99},{"c":"Korea","y":2017,"v":4.29},{"c":"Korea","y":2018,"v":4.52},{"c":"Korea","y":2019,"v":4.63},{"c":"Korea","y":2020,"v":4.81}
]},
"layer":[
{"data":{"name":"grey"},"mark":{"type":"line","stroke":"#a8b5bd","strokeWidth":1.4,"interpolate":"linear"},"encoding":{
"x":{"field":"y","type":"quantitative","title":null,"scale":{"domain":[1999.108,2021.537],"nice":false,"zero":false},"axis":{"title":null,"values":[2000,2002,2004,2006,2008,2010,2012,2014,2016,2018,2020],"format":"d","domain":false,"grid":false,"ticks":true,"tickColor":"white","tickWidth":2,"tickSize":-7,"labelPadding":11,"labelFont":"Lato","labelFontSize":14,"labelColor":"#333","labelFlush":false,"labelOverlap":false}},
"y":{"field":"v","type":"quantitative","title":null,"scale":{"domain":[0.045,5.718],"nice":false,"zero":false},"axis":{"title":null,"values":[0.5,1,1.5,2,2.5,3,3.5,4,4.5,5],"format":".1f","domain":false,"ticks":false,"grid":true,"gridColor":"white","gridWidth":2,"labelPadding":-39,"labelFont":"Lato","labelFontSize":14,"labelColor":"#333","labelBaseline":"alphabetic","labelOffset":-5,"labelOverlap":false}},
"detail":{"field":"c"}}},
{"data":{"name":"dots"},"mark":{"type":"line","stroke":"#5f6f7a","strokeWidth":1.5,"strokeDash":[2.5,6]},"encoding":{"x":{"field":"y","type":"quantitative"},"y":{"field":"v","type":"quantitative"},"detail":{"field":"c"}}},
{"data":{"name":"main"},"mark":{"type":"line","strokeWidth":3},"encoding":{"x":{"field":"y","type":"quantitative"},"y":{"field":"v","type":"quantitative"},"detail":{"field":"c"},"color":{"field":"c","type":"nominal","legend":null,"scale":{"domain":["OECD","Korea"],"range":["#000000","#e3202e"]}}}},
{"data":{"name":"main"},"mark":{"type":"point","filled":true,"size":95,"opacity":1,"stroke":"white","strokeWidth":1.5},"encoding":{"x":{"field":"y","type":"quantitative"},"y":{"field":"v","type":"quantitative"},"fill":{"field":"c","type":"nominal","legend":null,"scale":{"domain":["OECD","Korea"],"range":["#000000","#e3202e"]}}}},
{"mark":{"type":"rect","fill":"white","stroke":"#c9dbe8","strokeWidth":1},"encoding":{"x":{"datum":2018.66,"type":"quantitative"},"x2":{"datum":2019.62},"y":{"datum":4.964,"type":"quantitative"},"y2":{"datum":4.673}}},
{"mark":{"type":"point","filled":true,"fill":"white","opacity":1,"shape":"M-1,-1L1,0L-1,1Z"},"encoding":{"x":{"datum":2019.73,"type":"quantitative"},"y":{"datum":4.818,"type":"quantitative"},"size":{"value":144}}},
{"mark":{"type":"text","text":"Korea","fontSize":15,"color":"#222"},"encoding":{"x":{"datum":2019.14,"type":"quantitative"},"y":{"datum":4.827,"type":"quantitative"}}},
{"mark":{"type":"rect","fill":"#888888"},"encoding":{"x":{"datum":1999.108,"type":"quantitative"},"x2":{"datum":2021.573},"y":{"datum":6.955,"type":"quantitative"},"y2":{"datum":6.93}}},
{"mark":{"type":"rect","fill":"#f5f5f5"},"encoding":{"x":{"datum":1999.108,"type":"quantitative"},"x2":{"datum":2021.537},"y":{"datum":6.191,"type":"quantitative"},"y2":{"datum":5.718}}},
{"mark":{"type":"rect","fill":"#0b629e"},"encoding":{"x":{"datum":1999.108,"type":"quantitative"},"x2":{"datum":2021.537},"y":{"datum":5.732,"type":"quantitative"},"y2":{"datum":5.718}}},
{"mark":{"type":"rect","fill":"#dde9f1"},"encoding":{"x":{"datum":2000.633,"type":"quantitative"},"x2":{"datum":2002.566},"y":{"datum":6.191,"type":"quantitative"},"y2":{"datum":5.71}}},
{"mark":{"type":"rect","fill":"#0b629e"},"encoding":{"x":{"datum":2000.633,"type":"quantitative"},"x2":{"datum":2002.566},"y":{"datum":6.191,"type":"quantitative"},"y2":{"datum":6.177}}},
{"mark":{"type":"rect","cornerRadius":3,"stroke":"#d5d5d5","fill":{"gradient":"linear","x1":0,"y1":0,"x2":0,"y2":1,"stops":[{"offset":0,"color":"#f8f8f8"},{"offset":1,"color":"#e6e6e6"}]}},"encoding":{"x":{"datum":2010.047,"type":"quantitative"},"x2":{"datum":2012.53},"y":{"datum":6.127,"type":"quantitative"},"y2":{"datum":5.764}}},
{"mark":{"type":"rect","cornerRadius":3,"stroke":"#6c9627","fill":{"gradient":"linear","x1":0,"y1":0,"x2":0,"y2":1,"stops":[{"offset":0,"color":"#95c83a"},{"offset":1,"color":"#6f9e26"}]}},"encoding":{"x":{"datum":2012.619,"type":"quantitative"},"x2":{"datum":2014.41},"y":{"datum":6.127,"type":"quantitative"},"y2":{"datum":5.764}}},
{"mark":{"type":"rect","cornerRadius":3,"stroke":"#0d6199","fill":{"gradient":"linear","x1":0,"y1":0,"x2":0,"y2":1,"stops":[{"offset":0,"color":"#0c80c6"},{"offset":1,"color":"#0b6198"}]}},"encoding":{"x":{"datum":2014.5,"type":"quantitative"},"x2":{"datum":2017.6},"y":{"datum":6.127,"type":"quantitative"},"y2":{"datum":5.764}}},
{"mark":{"type":"rect","cornerRadius":3,"stroke":"#0d6199","fill":{"gradient":"linear","x1":0,"y1":0,"x2":0,"y2":1,"stops":[{"offset":0,"color":"#0c80c6"},{"offset":1,"color":"#0b6198"}]}},"encoding":{"x":{"datum":2017.706,"type":"quantitative"},"x2":{"datum":2021.27},"y":{"datum":6.127,"type":"quantitative"},"y2":{"datum":5.764}}},
{"mark":{"type":"point","filled":true,"fill":"#3a3a3a","opacity":1,"shape":"M-1,-1H-0.3L-0.55,-0.75L-0.25,-0.45L-0.45,-0.25L-0.75,-0.55L-1,-0.3ZM1,-1V-0.3L0.75,-0.55L0.45,-0.25L0.25,-0.45L0.55,-0.75L0.3,-1ZM-1,1V0.3L-0.75,0.55L-0.45,0.25L-0.25,0.45L-0.55,0.75L-0.3,1ZM1,1H0.3L0.55,0.75L0.25,0.45L0.45,0.25L0.75,0.55L1,0.3Z"},"encoding":{"x":{"datum":2010.47,"type":"quantitative"},"y":{"datum":5.945,"type":"quantitative"},"size":{"value":400}}},
{"mark":{"type":"point","filled":true,"fill":"white","opacity":1,"shape":"M-1,0a0.35,0.35 0 1,0 0.7,0a0.35,0.35 0 1,0 -0.7,0ZM0.2,-0.7a0.35,0.35 0 1,0 0.7,0a0.35,0.35 0 1,0 -0.7,0ZM0.2,0.7a0.35,0.35 0 1,0 0.7,0a0.35,0.35 0 1,0 -0.7,0ZM-0.7,-0.1L0.5,-0.8L0.55,-0.6L-0.6,0.1ZM-0.7,0.1L0.5,0.8L0.55,0.6L-0.6,-0.1Z"},"encoding":{"x":{"datum":2013.06,"type":"quantitative"},"y":{"datum":5.945,"type":"quantitative"},"size":{"value":256}}},
{"mark":{"type":"point","filled":true,"fill":"white","opacity":1,"shape":"M-0.8,-1H0.8L0,0.35ZM-0.9,0.7H0.9V0.95H-0.9Z"},"encoding":{"x":{"datum":2014.96,"type":"quantitative"},"y":{"datum":5.945,"type":"quantitative"},"size":{"value":324}}},
{"mark":{"type":"point","filled":true,"fill":"white","opacity":1,"shape":"M-0.45,-1H0.45V-0.85H0.3L0.4,-0.1L0.7,0.2V0.3H0.1L0,1L-0.1,0.3H-0.7V0.2L-0.4,-0.1L-0.3,-0.85H-0.45Z"},"encoding":{"x":{"datum":2018.15,"type":"quantitative"},"y":{"datum":5.945,"type":"quantitative"},"size":{"value":324}}},
{"mark":{"type":"text","text":"Gross domestic spending on R&D","align":"left","font":"DejaVu Serif","fontSize":25.5,"color":"#3a3a3a"},"encoding":{"x":{"datum":1999.108,"type":"quantitative"},"y":{"datum":6.7,"type":"quantitative"}}},
{"mark":{"type":"text","text":"Total, % of GDP, 2000 – 2021","align":"left","fontSize":15,"fontWeight":"bold","color":"#444"},"encoding":{"x":{"datum":2007.14,"type":"quantitative"},"y":{"datum":6.7,"type":"quantitative"}}},
{"mark":{"type":"text","text":"Source: Main Science and Technology Indicators","align":"right","fontSize":15.7,"fontWeight":"bold","color":"#444"},"encoding":{"x":{"datum":2021.52,"type":"quantitative"},"y":{"datum":6.7,"type":"quantitative"}}},
{"mark":{"type":"text","text":"Show:","fontSize":20,"color":"#667"},"encoding":{"x":{"datum":1999.87,"type":"quantitative"},"y":{"datum":5.985,"type":"quantitative"}}},
{"mark":{"type":"text","text":"Chart","fontSize":20,"color":"#333"},"encoding":{"x":{"datum":2001.6,"type":"quantitative"},"y":{"datum":5.945,"type":"quantitative"}}},
{"mark":{"type":"text","text":"Map","fontSize":20,"color":"#12609c"},"encoding":{"x":{"datum":2003.567,"type":"quantitative"},"y":{"datum":5.945,"type":"quantitative"}}},
{"mark":{"type":"text","text":"Table","fontSize":20,"color":"#12609c"},"encoding":{"x":{"datum":2005.5,"type":"quantitative"},"y":{"datum":5.945,"type":"quantitative"}}},
{"mark":{"type":"text","text":"fullscreen","fontSize":20,"color":"#333"},"encoding":{"x":{"datum":2011.5,"type":"quantitative"},"y":{"datum":5.94,"type":"quantitative"}}},
{"mark":{"type":"text","text":"share","fontSize":20,"color":"white"},"encoding":{"x":{"datum":2013.73,"type":"quantitative"},"y":{"datum":5.94,"type":"quantitative"}}},
{"mark":{"type":"text","text":"download ▼","fontSize":21,"color":"white"},"encoding":{"x":{"datum":2016.32,"type":"quantitative"},"y":{"datum":5.94,"type":"quantitative"}}},
{"mark":{"type":"text","text":"My pinboard ▼","fontSize":21,"color":"white"},"encoding":{"x":{"datum":2019.78,"type":"quantitative"},"y":{"datum":5.94,"type":"quantitative"}}},
{"mark":{"type":"rect","fill":"#f3f3f3"},"encoding":{"x":{"datum":1999.179,"type":"quantitative"},"x2":{"datum":2002.459},"y":{"datum":-0.273,"type":"quantitative"},"y2":{"datum":-0.418}}},
{"mark":{"type":"rule","stroke":"#b3b3b3","strokeWidth":1.5},"encoding":{"x":{"datum":1999.179,"type":"quantitative"},"x2":{"datum":2016.94},"y":{"datum":-0.382,"type":"quantitative"}}},
{"data":{"values":[{"t":2002.459},{"t":2004.268},{"t":2006.076},{"t":2007.885},{"t":2009.693},{"t":2011.51},{"t":2013.33},{"t":2015.13}]},"mark":{"type":"rule","stroke":"#b3b3b3","strokeWidth":1.5},"encoding":{"x":{"field":"t","type":"quantitative"},"y":{"datum":-0.273,"type":"quantitative"},"y2":{"datum":-0.418}}}
]}
